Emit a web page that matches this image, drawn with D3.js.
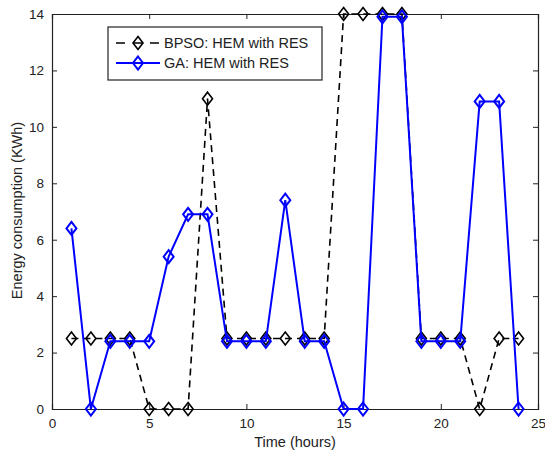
<!DOCTYPE html>
<html>
<head>
<meta charset="utf-8">
<script src="https://cdn.jsdelivr.net/npm/d3@7"></script>
<style>
  html, body { margin: 0; padding: 0; background: #fff; }
  svg text { font-family: "Liberation Sans", Arial, Helvetica, sans-serif; fill: #222; }
</style>
</head>
<body>
<svg id="chart" width="545" height="453"></svg>
<script>
// Hourly energy consumption for two scheduling approaches
const hours = d3.range(1, 25);
const bpsoValues = [2.5, 2.5, 2.5, 2.5, 0, 0, 0, 11, 2.5, 2.5, 2.5, 2.5, 2.5, 2.5, 14, 14, 14, 14, 2.5, 2.5, 2.5, 0, 2.5, 2.5];
const gaValues   = [6.4, 0, 2.4, 2.4, 2.4, 5.4, 6.9, 6.9, 2.4, 2.4, 2.4, 7.4, 2.4, 2.4, 0, 0, 13.9, 13.9, 2.4, 2.4, 2.4, 10.9, 10.9, 0];
const xTicks = [0, 5, 10, 15, 20, 25];
const yTicks = [0, 2, 4, 6, 8, 10, 12, 14];
const seriesNames = ["BPSO: HEM with RES", "GA: HEM with RES"];

const svg = d3.select("#chart");
const m = { left: 52, right: 7, top: 14, bottom: 44 };
const W = 545, H = 453;

const x = d3.scaleLinear().domain([0, 25]).range([m.left, W - m.right]);
const y = d3.scaleLinear().domain([0, 14]).range([H - m.bottom, m.top]);

const tickLen = 5;

// Axes with inward ticks on all four sides
const xAxis = svg.append("g").attr("transform", `translate(0,${y(0)})`)
  .call(d3.axisBottom(x).tickValues(xTicks).tickSize(-tickLen).tickPadding(9).tickFormat(d3.format("d")));
const yAxis = svg.append("g").attr("transform", `translate(${x(0)},0)`)
  .call(d3.axisLeft(y).tickValues(yTicks).tickSize(-tickLen).tickPadding(8).tickFormat(d3.format("d")));
const xTop = svg.append("g").attr("transform", `translate(0,${y(14)})`)
  .call(d3.axisTop(x).tickValues(xTicks).tickSize(-tickLen).tickFormat(""));
const yRight = svg.append("g").attr("transform", `translate(${x(25)},0)`)
  .call(d3.axisRight(y).tickValues(yTicks).tickSize(-tickLen).tickFormat(""));

[xAxis, yAxis, xTop, yRight].forEach(g => {
  g.select(".domain").attr("stroke", "#222").attr("stroke-width", 1.2);
  g.selectAll(".tick line").attr("stroke", "#222").attr("stroke-width", 1);
  g.selectAll(".tick text").attr("font-size", 13.5).attr("fill", "#222")
    .style("font-family", '"Liberation Sans", Arial, sans-serif');
});

// Axis titles
svg.append("text").attr("x", (x(0) + x(25)) / 2).attr("y", 447)
  .attr("text-anchor", "middle").attr("font-size", 14.5).text("Time (hours)");
svg.append("text").attr("transform", `translate(22,${(y(0) + y(14)) / 2 - 1}) rotate(-90)`)
  .attr("text-anchor", "middle").attr("font-size", 14.5).text("Energy consumption (KWh)");

const diamond = (cx, cy, w, h) => `M${cx},${cy - h}L${cx + w},${cy}L${cx},${cy + h}L${cx - w},${cy}Z`;

const line = d3.line().x((d, i) => x(hours[i])).y(d => y(d));

// BPSO series: black dashed line with diamond markers
const gB = svg.append("g");
gB.append("path").datum(bpsoValues).attr("d", line)
  .attr("fill", "none").attr("stroke", "#000").attr("stroke-width", 1.6).attr("stroke-dasharray", "7,5");
gB.selectAll("path.mk").data(bpsoValues).join("path").attr("class", "mk")
  .attr("d", (d, i) => diamond(x(hours[i]), y(d), 5, 6.5))
  .attr("fill", "none").attr("stroke", "#000").attr("stroke-width", 1.6);

// GA series: solid blue line with diamond markers
const gG = svg.append("g");
gG.append("path").datum(gaValues).attr("d", line)
  .attr("fill", "none").attr("stroke", "#0000ff").attr("stroke-width", 2);
gG.selectAll("path.mk").data(gaValues).join("path").attr("class", "mk")
  .attr("d", (d, i) => diamond(x(hours[i]), y(d), 5, 6.5))
  .attr("fill", "none").attr("stroke", "#0000ff").attr("stroke-width", 2);

// Legend
const lg = svg.append("g");
lg.append("rect").attr("x", 108).attr("y", 27).attr("width", 214).attr("height", 53)
  .attr("fill", "#fff").attr("stroke", "#222").attr("stroke-width", 1.2);
const items = [
  { name: seriesNames[0], color: "#000", dash: true, w: 1.6, yy: 43 },
  { name: seriesNames[1], color: "#0000ff", dash: false, w: 2, yy: 63 }
];
items.forEach(it => {
  lg.append("line").attr("x1", 116).attr("x2", 160).attr("y1", it.yy).attr("y2", it.yy)
    .attr("stroke", it.color).attr("stroke-width", it.w)
    .attr("stroke-dasharray", it.dash ? "9,8" : null);
  lg.append("path").attr("d", diamond(138, it.yy, 5, 6.5))
    .attr("fill", "none").attr("stroke", it.color).attr("stroke-width", it.w);
  lg.append("text").attr("x", 164).attr("y", it.yy + 5).attr("font-size", 14.5).text(it.name);
});
</script>
</body>
</html>
